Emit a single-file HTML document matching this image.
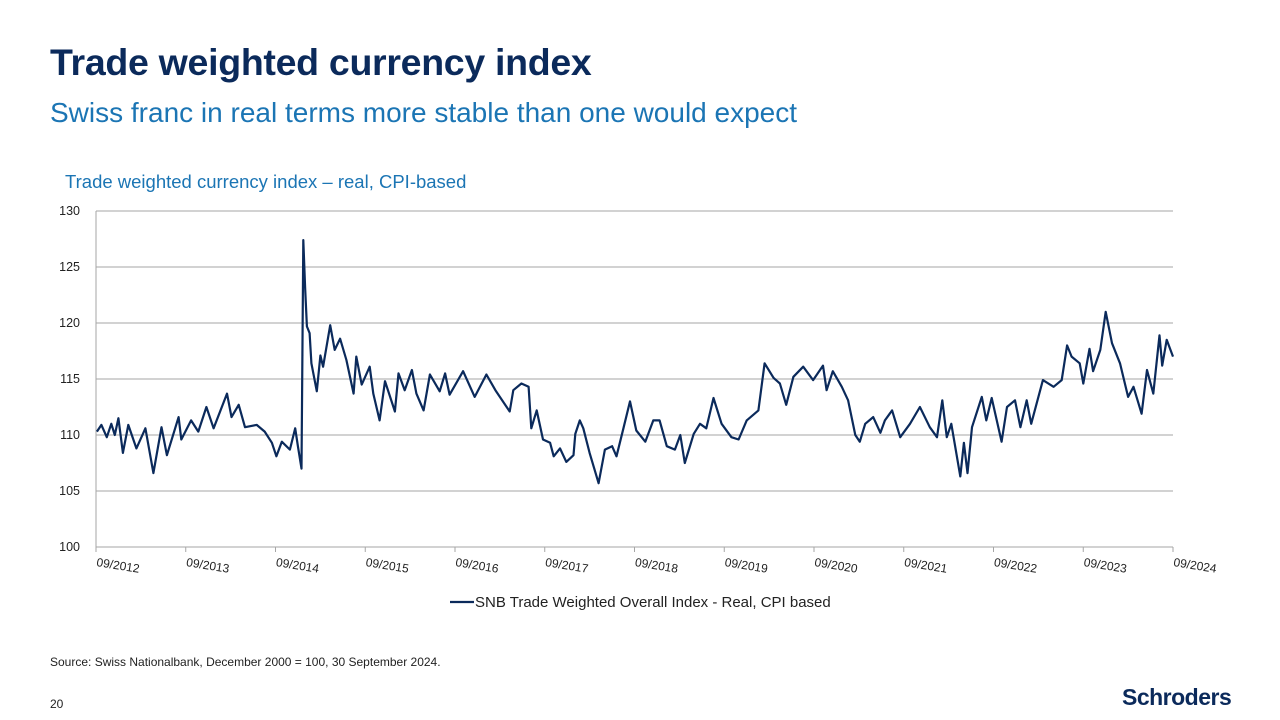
<!DOCTYPE html>
<html><head><meta charset="utf-8"><style>
body{margin:0;width:1280px;height:720px;background:#fff;font-family:"Liberation Sans",sans-serif;position:relative;overflow:hidden}
.t{position:absolute;white-space:nowrap}
</style></head><body>
<div class="t" style="left:50px;top:41px;font-size:37.5px;font-weight:bold;color:#0b2a5b;letter-spacing:-0.3px">Trade weighted currency index</div>
<div class="t" style="left:50px;top:97px;font-size:28px;color:#1b75b4">Swiss franc in real terms more stable than one would expect</div>
<div class="t" style="left:65px;top:171px;font-size:18.5px;color:#1b75b4">Trade weighted currency index – real, CPI-based</div>
<svg id="chart" width="1280" height="620" style="position:absolute;left:0;top:0"></svg>
<div class="t" style="left:50px;top:655px;font-size:12px;color:#222">Source: Swiss Nationalbank, December 2000 = 100, 30 September 2024.</div>
<div class="t" style="left:50px;top:697px;font-size:12px;color:#222">20</div>
<div class="t" style="left:1122px;top:684px;font-size:23px;font-weight:bold;color:#0b2a5b;letter-spacing:-0.5px">Schroders</div>
<script>
const yTicks=[100,105,110,115,120,125,130];
const xLabels=["09/2012","09/2013","09/2014","09/2015","09/2016","09/2017","09/2018","09/2019","09/2020","09/2021","09/2022","09/2023","09/2024"];
const seriesT=[0.01,0.06,0.12,0.17,0.21,0.25,0.30,0.36,0.45,0.55,0.64,0.73,0.79,0.92,0.95,1.06,1.14,1.23,1.31,1.46,1.51,1.59,1.66,1.79,1.88,1.96,2.01,2.07,2.16,2.22,2.25,2.29,2.31,2.33,2.35,2.38,2.40,2.46,2.50,2.53,2.61,2.66,2.72,2.79,2.87,2.90,2.96,3.05,3.09,3.16,3.22,3.33,3.37,3.44,3.52,3.57,3.65,3.72,3.83,3.89,3.94,4.09,4.22,4.35,4.45,4.61,4.65,4.74,4.82,4.85,4.91,4.98,5.06,5.10,5.17,5.24,5.32,5.34,5.39,5.43,5.50,5.60,5.67,5.75,5.80,5.88,5.95,6.02,6.12,6.21,6.28,6.36,6.45,6.51,6.56,6.66,6.73,6.80,6.88,6.97,7.08,7.16,7.25,7.38,7.45,7.55,7.62,7.69,7.77,7.88,7.99,8.10,8.14,8.21,8.31,8.38,8.46,8.51,8.57,8.66,8.74,8.79,8.87,8.96,9.07,9.18,9.29,9.37,9.43,9.48,9.53,9.63,9.67,9.71,9.76,9.87,9.92,9.98,10.09,10.15,10.24,10.30,10.37,10.42,10.55,10.67,10.76,10.82,10.87,10.96,11.00,11.07,11.11,11.19,11.25,11.32,11.41,11.50,11.56,11.65,11.71,11.78,11.85,11.88,11.93,12.00];
const seriesV=[110.3,110.9,109.8,111.0,110.0,111.5,108.4,110.9,108.8,110.6,106.6,110.7,108.2,111.6,109.6,111.3,110.3,112.5,110.6,113.7,111.6,112.7,110.7,110.9,110.3,109.3,108.1,109.4,108.7,110.6,109.0,107.0,127.4,123.2,119.7,119.1,116.4,113.9,117.1,116.1,119.8,117.6,118.6,116.7,113.7,117.0,114.5,116.1,113.7,111.3,114.8,112.1,115.5,114.0,115.8,113.7,112.2,115.4,113.9,115.5,113.6,115.7,113.4,115.4,114.0,112.1,114.0,114.6,114.3,110.6,112.2,109.6,109.3,108.1,108.8,107.6,108.2,110.1,111.3,110.6,108.4,105.7,108.7,109.0,108.1,110.7,113.0,110.4,109.4,111.3,111.3,109.0,108.7,110.0,107.5,110.1,111.0,110.6,113.3,111.0,109.8,109.6,111.3,112.2,116.4,115.1,114.6,112.7,115.2,116.1,114.9,116.2,114.0,115.7,114.3,113.1,110.0,109.4,111.0,111.6,110.2,111.3,112.2,109.8,111.0,112.5,110.7,109.8,113.1,109.8,111.0,106.3,109.3,106.6,110.7,113.4,111.3,113.3,109.4,112.5,113.1,110.7,113.1,111.0,114.9,114.3,114.9,118.0,117.0,116.4,114.6,117.7,115.7,117.6,121.0,118.2,116.4,113.4,114.3,111.9,115.8,113.7,118.9,116.2,118.5,117.0];
const NS="http://www.w3.org/2000/svg";
const svg=document.getElementById('chart');
const X0=96,X1=1173,Y0=547,Y1=211;
const xs=t=>X0+(X1-X0)*t/12;
const ys=v=>Y0-(Y0-Y1)*(v-100)/30;
function mk(tag,attrs){const e=document.createElementNS(NS,tag);for(const k in attrs)e.setAttribute(k,attrs[k]);svg.appendChild(e);return e;}
yTicks.forEach(v=>{
  const g=mk('line',{x1:X0,x2:X1,y1:ys(v),y2:ys(v),stroke:'#a6a6a6','stroke-width':1});
  
  
  const tx=mk('text',{x:80,y:ys(v)+4,'text-anchor':'end','font-size':12.5,fill:'#222','font-family':'Liberation Sans, sans-serif'});
  tx.textContent=v;
  
  
});
const ax=mk('line',{x1:X0,x2:X0,y1:Y1,y2:Y0,stroke:'#a6a6a6','stroke-width':1});


xLabels.forEach((s,i)=>{
  const x=xs(i);
  const tk=mk('line',{x1:x,x2:x,y1:Y0,y2:Y0+5,stroke:'#a6a6a6','stroke-width':1});
  
  
  const tx=mk('text',{x:x,y:Y0+19,'font-size':12,fill:'#222','font-family':'Liberation Sans, sans-serif',transform:`rotate(9 ${x} ${Y0+19})`});
  tx.textContent=s;
  
  
});
const d=seriesT.map((t,i)=>(i?'L':'M')+xs(t).toFixed(1)+' '+ys(seriesV[i]).toFixed(1)).join(' ');
const p=mk('path',{d:d,fill:'none',stroke:'#0b2a5b','stroke-width':2.2,'stroke-linejoin':'round'});


const ll=mk('line',{x1:450,x2:474,y1:602,y2:602,stroke:'#0b2a5b','stroke-width':2.2});


const lt=mk('text',{x:475,y:607,'font-size':15,fill:'#222','font-family':'Liberation Sans, sans-serif'});
lt.textContent='SNB Trade Weighted Overall Index - Real, CPI based';


</script>
</body></html>
